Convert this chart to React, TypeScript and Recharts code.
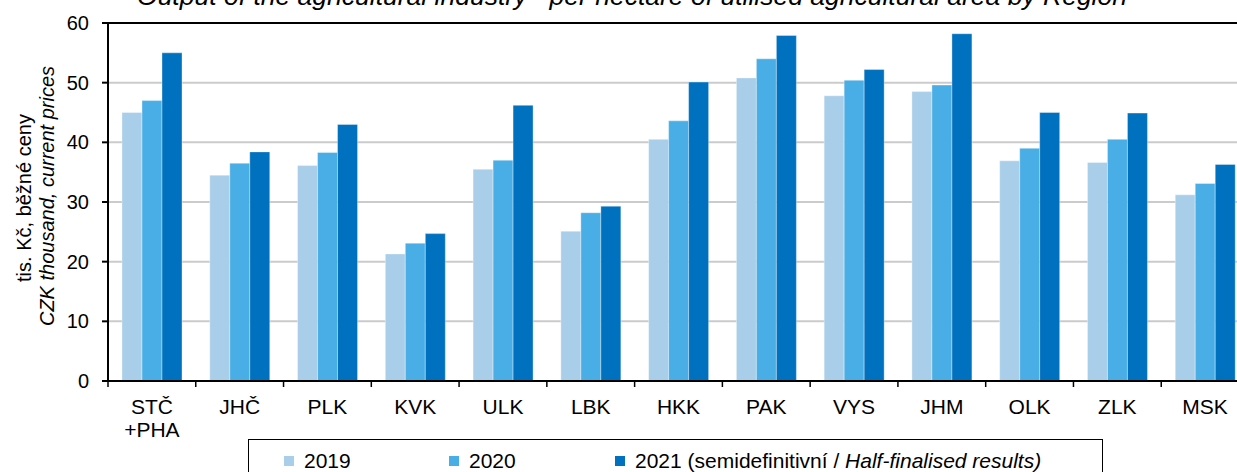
import React from 'react';
import { BarChart, Bar, XAxis, YAxis, CartesianGrid, ReferenceLine, Legend } from 'recharts';

const regions = ['STČ\n+PHA', 'JHČ', 'PLK', 'KVK', 'ULK', 'LBK', 'HKK', 'PAK', 'VYS', 'JHM', 'OLK', 'ZLK', 'MSK'];
const values2019 = [45.0, 34.5, 36.1, 21.3, 35.5, 25.1, 40.5, 50.8, 47.8, 48.5, 36.9, 36.6, 31.2];
const values2020 = [47.0, 36.5, 38.3, 23.1, 37.0, 28.2, 43.6, 54.0, 50.4, 49.6, 39.0, 40.5, 33.1];
const values2021 = [55.0, 38.4, 43.0, 24.7, 46.2, 29.3, 50.1, 57.9, 52.2, 58.2, 45.0, 44.9, 36.3];
const yTicks = [0, 10, 20, 30, 40, 50, 60];

const seriesKeys = ['y2019', 'y2020', 'y2021'];
const seriesColors = ['#A9CEE9', '#4AAEE6', '#0071BF'];
const seriesLabels = ['2019', '2020', '2021 (semidefinitivní / '];
const seriesLabelsItalic = ['', '', 'Half-finalised results)'];

const data = regions.map((region, i) => ({
  region,
  y2019: values2019[i],
  y2020: values2020[i],
  y2021: values2021[i],
}));

const FONT = "'Liberation Sans', Arial, sans-serif";
const CHART_W = 1249;
const Y_AXIS_W = 108;
const BAND = (CHART_W - Y_AXIS_W) / regions.length;

const RegionTick = (props: any) => {
  const { x, y, payload } = props;
  const axisY = y - 8;
  const lines = String(payload.value).split('\n');
  const bx = x - BAND / 2;
  return (
    <g>
      <line x1={bx} x2={bx} y1={axisY} y2={axisY + 6} stroke="#000" strokeWidth={1.5} />
      <text x={x} y={axisY + 33} textAnchor="middle" fontSize={21} fill="#000" fontFamily={FONT}>
        {lines.map((l, i) => (
          <tspan key={i} x={x} dy={i === 0 ? 0 : 23}>{l}</tspan>
        ))}
      </text>
    </g>
  );
};

const YLabel = () => (
  <g fontFamily={FONT} fontSize={20} fill="#000">
    <text transform="translate(24,198) rotate(-90)" textAnchor="middle" dominantBaseline="central" fill="#000">
      tis. Kč, běžné ceny
    </text>
    <text transform="translate(47,196) rotate(-90)" textAnchor="middle" dominantBaseline="central" fontStyle="italic" fill="#000">
      CZK thousand, current prices
    </text>
  </g>
);

const LegendBox = () => {
  const itemLeft = [35, 200, 366];
  return (
    <div
      style={{
        position: 'relative',
        width: 855,
        height: 40,
        border: '1px solid #000',
        boxSizing: 'border-box',
        background: '#fff',
        fontFamily: FONT,
        fontSize: 21,
        color: '#000',
      }}
    >
      {seriesKeys.map((k, i) => (
        <div key={k} style={{ position: 'absolute', left: itemLeft[i], top: 9, whiteSpace: 'nowrap', lineHeight: '24px' }}>
          <span style={{ display: 'inline-block', width: 10, height: 10, background: seriesColors[i], marginRight: 10, verticalAlign: 'middle', position: 'relative', top: -1 }} />
          <span>{seriesLabels[i]}</span>
          {seriesLabelsItalic[i] && <span style={{ fontStyle: 'italic' }}>{seriesLabelsItalic[i]}</span>}
        </div>
      ))}
    </div>
  );
};

export default function App() {
  return (
    <div style={{ position: 'fixed', left: 0, top: 0, width: 1237, height: 472, overflow: 'hidden', background: '#fff' }}>
      <div
        style={{
          position: 'absolute',
          left: 0,
          width: 1264,
          top: -17,
          textAlign: 'center',
          fontFamily: FONT,
          fontSize: 26.5,
          lineHeight: '26px',
          fontStyle: 'italic',
          color: '#000',
          whiteSpace: 'nowrap',
        }}
      >
        Output of the agricultural industry¹⁾ per hectare of utilised agricultural area by Region
      </div>
      <BarChart
        width={CHART_W}
        height={472}
        data={data}
        margin={{ top: 23, right: 0, bottom: 0, left: 0 }}
        barGap={0}
        barSize={20}
      >
        <CartesianGrid vertical={false} stroke="#CBCBCB" strokeWidth={2} />
        <XAxis
          dataKey="region"
          height={91}
          interval={0}
          tickLine={false}
          tickSize={6}
          tickMargin={2}
          axisLine={{ stroke: '#000', strokeWidth: 2 }}
          tick={<RegionTick />}
        />
        <YAxis
          width={Y_AXIS_W}
          domain={[0, 60]}
          ticks={yTicks}
          interval={0}
          tickSize={6}
          tickMargin={13}
          axisLine={{ stroke: '#000', strokeWidth: 2 }}
          tickLine={{ stroke: '#000', strokeWidth: 2 }}
          tick={{ fontSize: 20, fill: '#000', fontFamily: FONT }}
          label={<YLabel />}
        />
        <ReferenceLine y={60} stroke="#000" strokeWidth={2} />
        {seriesKeys.map((k, i) => (
          <Bar
            key={k}
            dataKey={k}
            name={seriesLabels[i] + seriesLabelsItalic[i]}
            fill={seriesColors[i]}
            stroke="rgba(255,255,255,0.35)"
            strokeWidth={1}
            isAnimationActive={false}
          />
        ))}
        <Legend
          layout="horizontal"
          verticalAlign="middle"
          align="center"
          wrapperStyle={{ left: 248, top: 439, width: 855, height: 40 }}
          content={() => <LegendBox />}
        />
      </BarChart>
    </div>
  );
}
